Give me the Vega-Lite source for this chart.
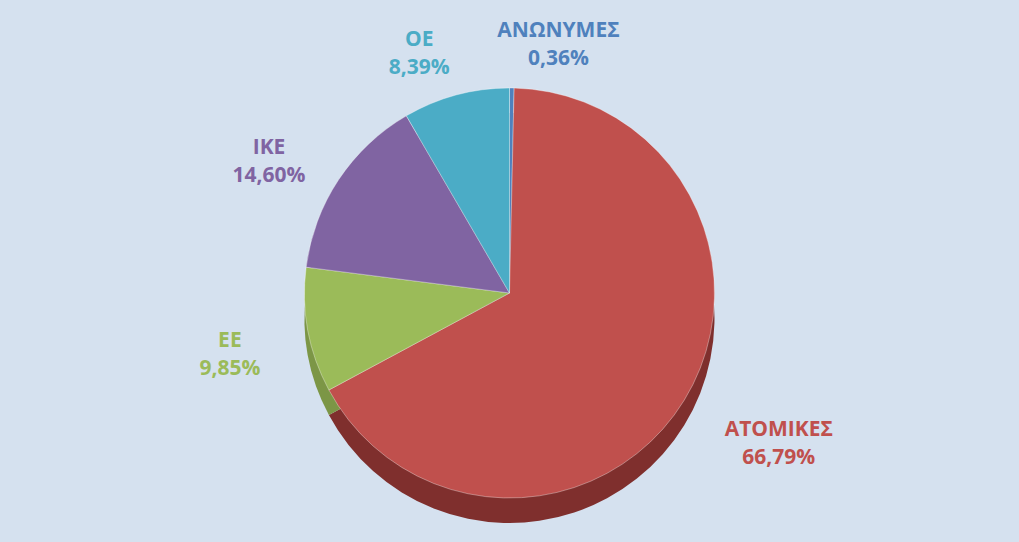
{
  "$schema": "https://vega.github.io/schema/vega-lite/v6.json",
  "autosize": {"type": "fit", "contains": "padding"},
  "width": 1019,
  "height": 542,
  "background": "#d5e1ef",
  "config": {"view": {"stroke": null}},
  "data": {
    "values": [
      {"name": "ΑΝΩΝΥΜΕΣ", "value": 0.36, "order": 1, "label": "ΑΝΩΝΥΜΕΣ\n0,36%", "side": "right"},
      {"name": "ΑΤΟΜΙΚΕΣ", "value": 66.79, "order": 2, "label": "ΑΤΟΜΙΚΕΣ\n66,79%", "side": "right"},
      {"name": "ΕΕ", "value": 9.85, "order": 3, "label": "ΕΕ\n9,85%", "side": "left"},
      {"name": "ΙΚΕ", "value": 14.60, "order": 4, "label": "ΙΚΕ\n14,60%", "side": "left"},
      {"name": "ΟΕ", "value": 8.39, "order": 5, "label": "ΟΕ\n8,39%", "side": "left"}
    ]
  },
  "encoding": {
    "theta": {"field": "value", "type": "quantitative", "stack": true},
    "order": {"field": "order", "type": "quantitative"}
  },
  "layer": [
    {
      "mark": {"type": "arc", "radius": 205, "yOffset": 47},
      "encoding": {
        "color": {
          "field": "name", "type": "nominal", "legend": null,
          "scale": {
            "domain": ["ΑΝΩΝΥΜΕΣ", "ΑΤΟΜΙΚΕΣ", "ΕΕ", "ΙΚΕ", "ΟΕ"],
            "range": ["#34577f", "#7f2f2d", "#7c9646", "#5a4675", "#327a8d"]
          }
        }
      }
    },
    {
      "mark": {"type": "arc", "radius": 205, "yOffset": 22, "stroke": "#ffffff", "strokeOpacity": 0.35, "strokeWidth": 1},
      "encoding": {
        "color": {
          "field": "name", "type": "nominal", "legend": null,
          "scale": {
            "domain": ["ΑΝΩΝΥΜΕΣ", "ΑΤΟΜΙΚΕΣ", "ΕΕ", "ΙΚΕ", "ΟΕ"],
            "range": ["#4f81bd", "#c0504d", "#9bbb59", "#8064a2", "#4bacc6"]
          }
        }
      }
    },
    {
      "mark": {"type": "text", "radius": 262, "yOffset": 22, "align": "center", "dx": -22, "lineBreak": "\n", "font": "Open Sans", "fontWeight": "bold", "fontSize": 21, "lineHeight": 28},
      "encoding": {
        "text": {"condition": {"test": "datum.side == 'left'", "field": "label"}, "value": ""},
        "color": {
          "field": "name", "type": "nominal", "legend": null,
          "scale": {
            "domain": ["ΑΝΩΝΥΜΕΣ", "ΑΤΟΜΙΚΕΣ", "ΕΕ", "ΙΚΕ", "ΟΕ"],
            "range": ["#4f81bd", "#c0504d", "#9bbb59", "#8064a2", "#4bacc6"]
          }
        }
      }
    },
    {
      "mark": {"type": "text", "radius": 262, "yOffset": 22, "align": "center", "dx": 46, "lineBreak": "\n", "font": "Open Sans", "fontWeight": "bold", "fontSize": 21, "lineHeight": 28},
      "encoding": {
        "text": {"condition": {"test": "datum.side == 'right'", "field": "label"}, "value": ""},
        "color": {
          "field": "name", "type": "nominal", "legend": null,
          "scale": {
            "domain": ["ΑΝΩΝΥΜΕΣ", "ΑΤΟΜΙΚΕΣ", "ΕΕ", "ΙΚΕ", "ΟΕ"],
            "range": ["#4f81bd", "#c0504d", "#9bbb59", "#8064a2", "#4bacc6"]
          }
        }
      }
    }
  ],
  "resolve": {"scale": {"color": "independent"}}
}
